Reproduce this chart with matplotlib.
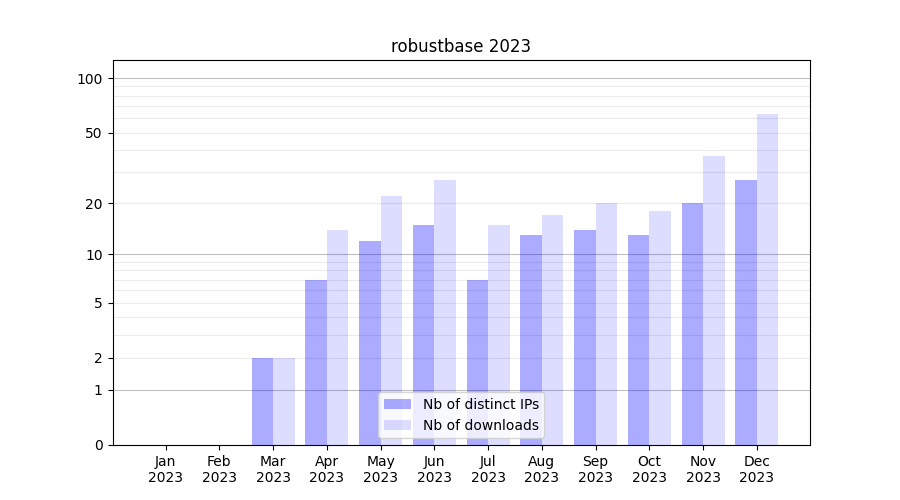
import numpy as np
import matplotlib
matplotlib.use('Agg')
import matplotlib.pyplot as plt

months = ['Jan\n2023', 'Feb\n2023', 'Mar\n2023', 'Apr\n2023', 'May\n2023', 'Jun\n2023',
          'Jul\n2023', 'Aug\n2023', 'Sep\n2023', 'Oct\n2023', 'Nov\n2023', 'Dec\n2023']
distinct_ips = [0, 0, 2, 7, 12, 15, 7, 13, 14, 13, 20, 27]
downloads = [0, 0, 2, 14, 22, 27, 15, 17, 20, 18, 37, 63]

ytick_vals = [0, 1, 2, 5, 10, 20, 50, 100]
major_grid = [1, 10, 100]
minor_grid = [2, 3, 4, 5, 6, 7, 8, 9, 20, 30, 40, 50, 60, 70, 80, 90]


def fwd(y):
    return np.log10(1 + np.maximum(y, 0))


def inv(y):
    return 10 ** y - 1


fig, ax = plt.subplots(figsize=(9, 5), dpi=100)
x = np.arange(len(months))
w = 0.4

ax.set_yscale('function', functions=(fwd, inv))

# gridlines behind bars
for g in major_grid:
    ax.axhline(g, color='#c0c0c0', linewidth=0.8, zorder=0)
for g in minor_grid:
    ax.axhline(g, color='#ebebeb', linewidth=0.8, zorder=0)

ax.bar(x - w / 2, distinct_ips, width=w, color='blue', alpha=0.33, label='Nb of distinct IPs', zorder=2)
ax.bar(x + w / 2, downloads, width=w, color='blue', alpha=0.135, label='Nb of downloads', zorder=2)

ax.set_ylim(0, 2 * max(downloads))
ax.set_yticks(ytick_vals)
ax.set_yticklabels([str(v) for v in ytick_vals])
ax.yaxis.set_minor_locator(matplotlib.ticker.NullLocator())
ax.set_xticks(x)
ax.set_xticklabels(months)
ax.set_title('robustbase 2023')
ax.legend(loc='lower center')

plt.savefig('out.png')
